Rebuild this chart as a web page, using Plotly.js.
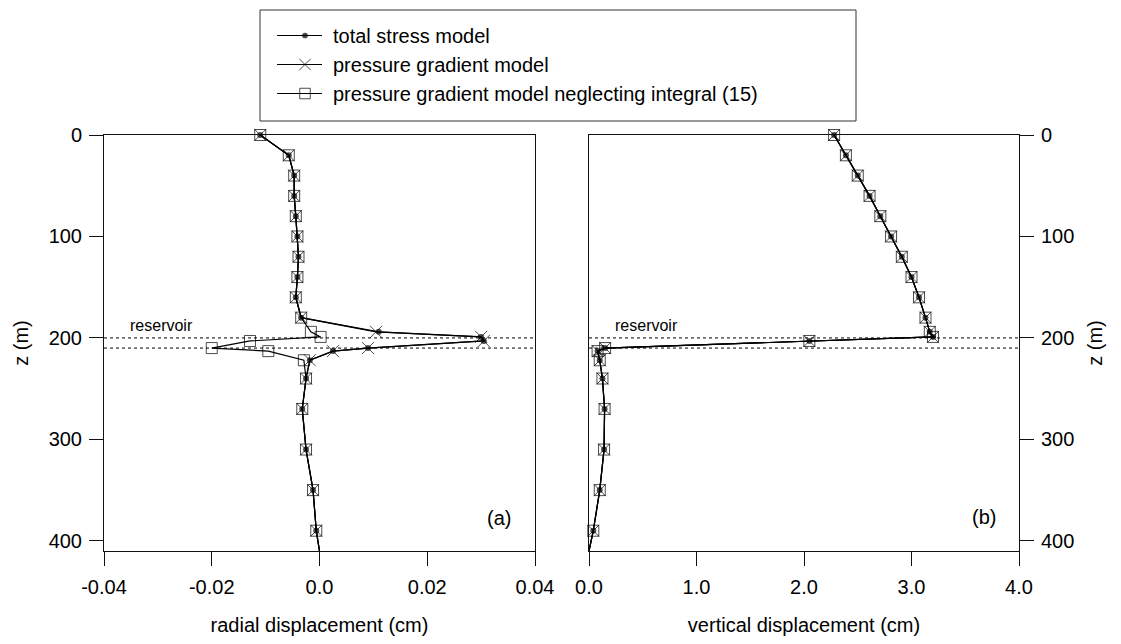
<!DOCTYPE html>
<html>
<head>
<meta charset="utf-8">
<script src="https://cdn.plot.ly/plotly-3.0.1.min.js"></script>
<style>
  html, body { margin: 0; padding: 0; background: #fff; }
  #chart { width: 1121px; height: 644px; }
</style>
</head>
<body>
<div id="chart"></div>
<script>
// Depth below the surface (m); the last entry is where the profile meets the base of the plot.
const depth = [0, 20, 40, 60, 80, 100, 120, 140, 160, 180, 194, 199, 203, 210, 213, 222, 240, 270, 310, 350, 390, 410];

// Radial displacement (cm)
const radialTotal = [-0.011, -0.0057, -0.0047, -0.0047, -0.0044, -0.0041, -0.0039, -0.0041, -0.0044, -0.0034,
                     0.011, 0.030, 0.0305, 0.009, 0.0025, -0.0018, -0.0025, -0.0032, -0.0025, -0.0012, -0.0006, 0.0];
const radialPressure = [-0.011, -0.0057, -0.0047, -0.0047, -0.0044, -0.0041, -0.0039, -0.0041, -0.0044, -0.0034,
                        0.0105, 0.030, 0.0305, 0.009, 0.0025, -0.0018, -0.0025, -0.0032, -0.0025, -0.0012, -0.0006, 0.0];
const radialNeglect = [-0.011, -0.0057, -0.0047, -0.0047, -0.0044, -0.0041, -0.0039, -0.0041, -0.0044, -0.0034,
                       -0.0016, 0.0002, -0.0129, -0.020, -0.0095, -0.0029, -0.0025, -0.0032, -0.0025, -0.0012, -0.0006, 0.0];

// Vertical displacement (cm)
const verticalTotal = [2.28, 2.39, 2.50, 2.61, 2.71, 2.81, 2.91, 3.00, 3.07, 3.13,
                       3.17, 3.20, 2.05, 0.15, 0.08, 0.10, 0.125, 0.145, 0.14, 0.10, 0.04, 0.0];
const verticalPressure = verticalTotal.slice();
const verticalNeglect = verticalTotal.slice();

// Axis ticks
const depthTicks = [0, 100, 200, 300, 400];
const radialTicks = [-0.04, -0.02, 0, 0.02, 0.04];
const radialTickText = ['-0.04', '-0.02', '0.0', '0.02', '0.04'];
const verticalTicks = [0, 1, 2, 3, 4];
const verticalTickText = ['0.0', '1.0', '2.0', '3.0', '4.0'];

// Reservoir top and bottom (m)
const reservoir = [200, 210];

const seriesNames = [
  'total stress model',
  'pressure gradient model',
  'pressure gradient model neglecting integral (15)'
];

const W = 1121, H = 644;
const px = v => v / W;
const py = v => 1 - v / H;
const FONT = 'Liberation Sans, Arial, Helvetica, sans-serif';
const INK = '#111';

// the final depth only carries the line down to the bottom axis
const sizes = s => depth.map((_, i) => (i === depth.length - 1 ? 0 : s));

const styles = [
  { symbol: 'circle', size: sizes(6), color: '#000', line: { width: 0 } },
  { symbol: 'x-thin', size: sizes(12), color: '#000', line: { width: 1, color: '#000' } },
  { symbol: 'square-open', size: sizes(11), color: '#000', line: { width: 1, color: '#000' } }
];

function trace(k, xs, xa, ya, showlegend) {
  return {
    type: 'scatter', mode: 'lines+markers',
    name: seriesNames[k], legendgroup: 'g' + k, legendrank: k + 1,
    x: xs, y: depth, xaxis: xa, yaxis: ya,
    line: { color: '#000', width: 1.2 },
    marker: styles[k],
    cliponaxis: false,
    showlegend: showlegend,
    hoverinfo: 'x+y'
  };
}

// squares first, then crosses, then dots on top
const data = [
  trace(2, radialNeglect, 'x', 'y', true),
  trace(1, radialPressure, 'x', 'y', true),
  trace(0, radialTotal, 'x', 'y', true),
  trace(2, verticalNeglect, 'x2', 'y2', false),
  trace(1, verticalPressure, 'x2', 'y2', false),
  trace(0, verticalTotal, 'x2', 'y2', false)
];

const axisCommon = {
  showline: true, linecolor: INK, linewidth: 1, mirror: true,
  ticks: 'outside', ticklen: 14, tickwidth: 1, tickcolor: INK,
  showgrid: false, zeroline: false,
  tickfont: { family: FONT, size: 20, color: '#000' },
  fixedrange: true
};

const yDomain = [py(551), py(135)];

const layout = {
  width: W, height: H, autosize: false,
  margin: { l: 0, r: 0, t: 0, b: 0, pad: 0 },
  paper_bgcolor: '#fff', plot_bgcolor: '#fff',
  font: { family: FONT, size: 20, color: '#000' },
  showlegend: true,
  legend: {
    x: px(277), y: py(16), xanchor: 'left', yanchor: 'top',
    bgcolor: 'rgba(0,0,0,0)', borderwidth: 0,
    itemwidth: 46, traceorder: 'normal',
    font: { family: FONT, size: 20, color: '#000' }
  },
  xaxis: Object.assign({}, axisCommon, {
    domain: [px(104), px(535)], range: [-0.04, 0.04], anchor: 'y',
    tickvals: radialTicks, ticktext: radialTickText, ticklabelstandoff: 4,
    title: { text: 'radial displacement (cm)', font: { family: FONT, size: 20 }, standoff: 20 }
  }),
  yaxis: Object.assign({}, axisCommon, {
    domain: yDomain, range: [410, 0], anchor: 'x',
    tickvals: depthTicks, ticklabelstandoff: 3,
    title: { text: 'z (m)', font: { family: FONT, size: 20 }, standoff: 14 }
  }),
  xaxis2: Object.assign({}, axisCommon, {
    domain: [px(589), px(1019)], range: [0, 4], anchor: 'y2',
    tickvals: verticalTicks, ticktext: verticalTickText, ticklabelstandoff: 4,
    title: { text: 'vertical displacement (cm)', font: { family: FONT, size: 20 }, standoff: 20 }
  }),
  yaxis2: Object.assign({}, axisCommon, {
    domain: yDomain, range: [410, 0], anchor: 'x2', side: 'right',
    tickvals: depthTicks, ticklabelstandoff: 3,
    title: { text: 'z (m)', font: { family: FONT, size: 20 }, standoff: 14 }
  }),
  shapes: [
    // legend frame
    { type: 'rect', xref: 'paper', yref: 'paper', x0: px(260), x1: px(856), y0: py(121), y1: py(10),
      line: { color: '#333', width: 1 }, fillcolor: 'rgba(0,0,0,0)' }
  ],
  annotations: [
    { xref: 'x domain', yref: 'y', x: 0.056, y: 188, xanchor: 'left', yanchor: 'middle',
      text: 'reservoir', showarrow: false, font: { family: FONT, size: 16 } },
    { xref: 'x2 domain', yref: 'y2', x: 0.056, y: 188, xanchor: 'left', yanchor: 'middle',
      text: 'reservoir', showarrow: false, font: { family: FONT, size: 16 } },
    { xref: 'x domain', yref: 'y', x: 0.9165, y: 377, xanchor: 'center', yanchor: 'middle',
      text: '(a)', showarrow: false, font: { family: FONT, size: 20 } },
    { xref: 'x2 domain', yref: 'y2', x: 0.9186, y: 376, xanchor: 'center', yanchor: 'middle',
      text: '(b)', showarrow: false, font: { family: FONT, size: 20 } }
  ]
};

// dotted lines marking the reservoir interval in both panels
[['x', 'y'], ['x2', 'y2']].forEach(([xa, ya]) => {
  reservoir.forEach(z => {
    layout.shapes.push({
      type: 'line', xref: xa + ' domain', x0: 0, x1: 1, yref: ya, y0: z, y1: z,
      line: { color: '#000', width: 1, dash: 'dot' }, layer: 'below'
    });
  });
});

Plotly.newPlot('chart', data, layout, { staticPlot: true, displayModeBar: false }).then(gd => {
  // longer sample line in each legend entry, centred on its marker
  gd.querySelectorAll('.legend .legendlines path').forEach(p => p.setAttribute('d', 'M-4,0h49'));
});
</script>
</body>
</html>
